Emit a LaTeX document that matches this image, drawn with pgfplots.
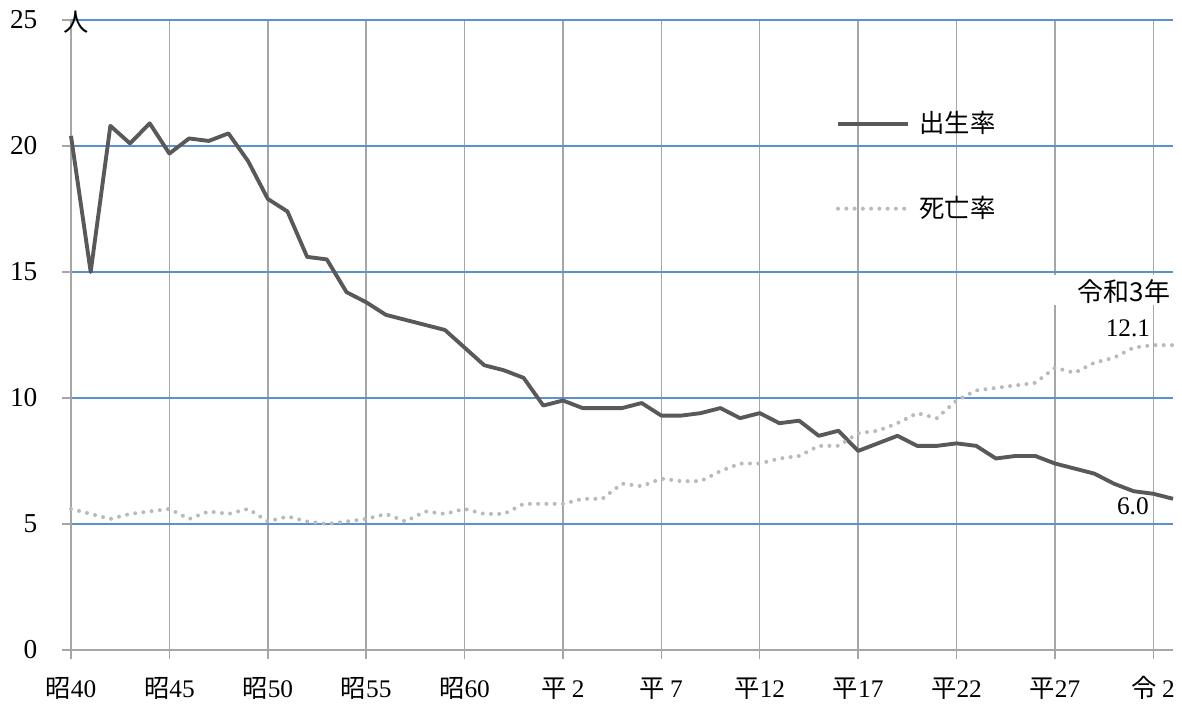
\documentclass[border=0pt]{standalone}
\usepackage{fontspec}
\setmainfont{Liberation Serif}
\newfontfamily\cjk{Noto Sans CJK JP}
\newcommand{\J}[1]{{\cjk #1}}
\usepackage{pgfplots}
\pgfplotsset{compat=1.18}
\definecolor{birth}{HTML}{595959}
\definecolor{death}{HTML}{BABABA}
\definecolor{gridgray}{HTML}{A6A6A6}
\definecolor{gridblue}{HTML}{5B8FD6}

\pgfplotstableread{
i v
0 20.4
1 15.0
2 20.8
3 20.1
4 20.9
5 19.7
6 20.3
7 20.2
8 20.5
9 19.4
10 17.9
11 17.4
12 15.6
13 15.5
14 14.2
15 13.8
16 13.3
17 13.1
18 12.9
19 12.7
20 12.0
21 11.3
22 11.1
23 10.8
24 9.7
25 9.9
26 9.6
27 9.6
28 9.6
29 9.8
30 9.3
31 9.3
32 9.4
33 9.6
34 9.2
35 9.4
36 9.0
37 9.1
38 8.5
39 8.7
40 7.9
41 8.2
42 8.5
43 8.1
44 8.1
45 8.2
46 8.1
47 7.6
48 7.7
49 7.7
50 7.4
51 7.2
52 7.0
53 6.6
54 6.3
55 6.2
56 6.0
}\birthtable

\pgfplotstableread{
i v
0 5.6
1 5.4
2 5.2
3 5.4
4 5.5
5 5.6
6 5.2
7 5.5
8 5.4
9 5.6
10 5.1
11 5.3
12 5.1
13 5.0
14 5.1
15 5.2
16 5.4
17 5.1
18 5.5
19 5.4
20 5.6
21 5.4
22 5.4
23 5.8
24 5.8
25 5.8
26 6.0
27 6.0
28 6.6
29 6.5
30 6.8
31 6.7
32 6.7
33 7.1
34 7.4
35 7.4
36 7.6
37 7.7
38 8.1
39 8.1
40 8.6
41 8.7
42 9.0
43 9.4
44 9.2
45 9.9
46 10.3
47 10.4
48 10.5
49 10.6
50 11.2
51 11.0
52 11.4
53 11.6
54 12.0
55 12.1
56 12.1
}\deathtable

\begin{document}
\fontsize{19}{23}\selectfont
\begin{tikzpicture}[font=\fontsize{19}{23}\selectfont]
\begin{axis}[
  name=ax,
  scale only axis,
  width=826.5pt, height=472.5pt,
  xmin=0, xmax=56, ymin=0, ymax=25,
  enlargelimits=false,
  clip=false,
  axis x line=bottom, axis y line=left,
  axis line style={draw=gridgray, line width=1.1pt, -},
  xtick={0,5,...,55},
  xticklabels={{\J{昭}40},{\J{昭}45},{\J{昭}50},{\J{昭}55},{\J{昭}60},{\J{平}\hspace{0.2em}2},{\J{平}\hspace{0.2em}7},{\J{平}12},{\J{平}17},{\J{平}22},{\J{平}27},{\J{令}\hspace{0.2em}2}},
  ytick={0,5,...,25},
  /pgf/number format/assume math mode=true,
  tick align=outside,
  major tick length=6.5pt,
  tick style={draw=gridgray, line width=1.1pt},
  xmajorgrids, ymajorgrids,
  x grid style={draw=gridgray, line width=1.1pt},
  y grid style={draw=gridblue, line width=1.1pt},
  xticklabel style={anchor=base, inner sep=0pt, yshift=-29pt},
  yticklabel style={anchor=east, inner sep=0pt, xshift=-18.5pt, font=\fontsize{20.5}{24}\selectfont},
  legend style={draw=none, fill=none, inner sep=0pt, at={(0.694,0.768)}, anchor=west,
    nodes={inner sep=0pt}, row sep=45pt,
    /tikz/every odd column/.append style={column sep=7pt}},
  legend cell align=left,
  legend image code/.code={\draw[#1] (0pt,0pt) -- (52.5pt,0pt);},
]
\addplot[color=birth, line width=2.9pt, line join=round] table[x=i, y=v] {\birthtable};
\addlegendentry{\J{出生率}}
\addplot[color=death, line width=3pt, line cap=round, dash pattern=on 0pt off 6.2pt] table[x=i, y=v] {\deathtable};
\addlegendentry{\J{死亡率}}
\fill[white] (axis cs:49.3,13.7) rectangle (axis cs:56.4,14.9);
\node at (axis cs:53.5,14.23) {\fontsize{19.5}{23}\selectfont\J{令和3年}};
\node at (axis cs:53.71,12.78) {12.1};
\node at (axis cs:53.96,5.71) {6.0};
\node at (axis cs:0.25,24.9) {\J{人}};
\end{axis}
\pgfresetboundingbox
\path[use as bounding box] ([shift={(-53.25pt,-42.75pt)}]ax.south west) rectangle ([shift={(6.75pt,15pt)}]ax.north east);
\end{tikzpicture}
\end{document}
